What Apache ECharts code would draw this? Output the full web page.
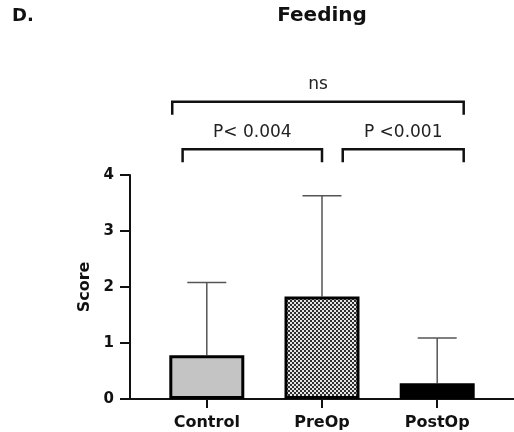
<!DOCTYPE html>
<html>
<head>
<meta charset="utf-8">
<script src="https://cdn.jsdelivr.net/npm/echarts@6/dist/echarts.min.js"></script>
<style>
  html, body { margin: 0; padding: 0; background: #fff; }
  #main { width: 514px; height: 432px; }
</style>
</head>
<body>
<div id="main"></div>
<script>
// data
var groups = ['Control', 'PreOp', 'PostOp'];
var means = [0.78, 1.83, 0.28];
var sds = [1.30, 1.80, 0.81];
var yTicks = [0, 1, 2, 3, 4];
// brackets: [from x, to x, level (score units)]
var bracketFrom = [-0.30, -0.21, 1.18];
var bracketTo = [2.23, 1.00, 2.23];
var bracketLevel = [5.31, 4.46, 4.46];
var bracketLabels = ['ns', 'P< 0.004', 'P <0.001'];

var FONT = 'DejaVu Sans, sans-serif';

// checkered fill for PreOp
function checker() {
  var c = document.createElement('canvas');
  c.width = 4; c.height = 4;
  var ctx = c.getContext('2d');
  ctx.fillStyle = '#2e2e2e';
  ctx.fillRect(0, 0, 4, 4);
  ctx.fillStyle = '#e6e6e6';
  ctx.fillRect(0, 0, 2, 2);
  ctx.fillRect(2, 2, 2, 2);
  return c;
}

var fills = ['#c4c4c4', { image: checker(), repeat: 'repeat' }, '#000'];

var barData = means.map(function (m, i) {
  return { value: [i, m], itemStyle: { color: fills[i] } };
});
var errData = means.map(function (m, i) { return [i, m, m + sds[i]]; });
var bracketData = bracketFrom.map(function (x, i) { return [x, bracketTo[i], bracketLevel[i]]; });

var chart = echarts.init(document.getElementById('main'));
var option = {
  animation: false,
  textStyle: { fontFamily: FONT },
  graphic: [
    { type: 'text', x: 12, y: 16, style: { text: 'D.', font: 'bold 18px ' + FONT, fill: '#111', textVerticalAlign: 'middle' } },
    { type: 'text', x: 322, y: 16, style: { text: 'Feeding', font: 'bold 20px ' + FONT, fill: '#111', textAlign: 'center', textVerticalAlign: 'middle' } }
  ],
  grid: { left: 130, right: 0, top: 175, bottom: 33 },
  xAxis: {
    type: 'value',
    min: -2 / 3,
    max: 8 / 3,
    splitLine: { show: false },
    axisLine: { show: true, lineStyle: { color: '#111', width: 2 } },
    axisTick: { show: true, length: 9, customValues: [0, 1, 2], lineStyle: { color: '#111', width: 2 } },
    axisLabel: {
      customValues: [0, 1, 2],
      margin: 16,
      fontSize: 16, fontWeight: 'bold', color: '#111',
      formatter: function (v) { return groups[Math.round(v)]; }
    }
  },
  yAxis: {
    type: 'value',
    min: 0, max: 4, interval: 1,
    name: 'Score',
    nameLocation: 'middle',
    nameGap: 33,
    nameRotate: 90,
    nameTextStyle: { fontSize: 16, fontWeight: 'bold', color: '#111' },
    splitLine: { show: false },
    axisLine: { show: true, onZero: false, lineStyle: { color: '#111', width: 2 } },
    axisTick: { show: true, length: 10, lineStyle: { color: '#111', width: 2 } },
    axisLabel: { margin: 16, fontSize: 15, fontWeight: 'bold', color: '#111' }
  },
  series: [
    {
      type: 'bar',
      barWidth: 75,
      data: barData,
      itemStyle: { borderColor: '#000', borderWidth: 3 },
      z: 2
    },
    {
      type: 'custom',
      data: errData,
      z: 1,
      renderItem: function (params, api) {
        var base = api.coord([api.value(0), api.value(1)]);
        var top = api.coord([api.value(0), api.value(2)]);
        var half = 19.5;
        return {
          type: 'group',
          children: [
            { type: 'line', shape: { x1: base[0], y1: base[1], x2: top[0], y2: top[1] }, style: { stroke: '#555', lineWidth: 1.5 } },
            { type: 'line', shape: { x1: top[0] - half, y1: top[1], x2: top[0] + half, y2: top[1] }, style: { stroke: '#555', lineWidth: 1.5 } }
          ]
        };
      }
    },
    {
      type: 'custom',
      data: bracketData,
      clip: false,
      renderItem: function (params, api) {
        var p1 = api.coord([api.value(0), api.value(2)]);
        var p2 = api.coord([api.value(1), api.value(2)]);
        var drop = 13;
        return {
          type: 'group',
          children: [
            {
              type: 'polyline',
              shape: { points: [[p1[0], p1[1] + drop], p1, p2, [p2[0], p2[1] + drop]] },
              style: { stroke: '#111', lineWidth: 2.5, fill: null }
            },
            {
              type: 'text',
              x: (p1[0] + p2[0]) / 2,
              y: p1[1] - 17,
              style: {
                text: bracketLabels[params.dataIndex],
                font: '17px ' + FONT, fill: '#222',
                textAlign: 'center', textVerticalAlign: 'middle'
              }
            }
          ]
        };
      }
    }
  ]
};
chart.setOption(option);
</script>
</body>
</html>
